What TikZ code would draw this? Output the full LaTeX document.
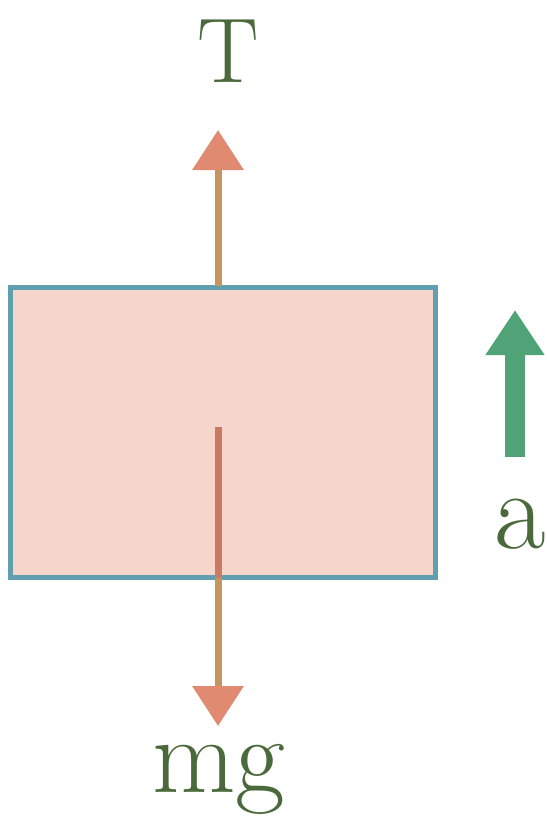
\documentclass[tikz,border=0pt]{standalone}
\usetikzlibrary{arrows.meta}
\definecolor{boxfill}{HTML}{F6D6CB}
\definecolor{boxline}{HTML}{5F9FAF}
\definecolor{shaft}{HTML}{C4955E}
\definecolor{inner}{HTML}{C97A63}
\definecolor{headc}{HTML}{E08A72}
\definecolor{accg}{HTML}{4FA376}
\definecolor{txt}{HTML}{4B6A3B}
\tikzset{
  force/.style={draw=shaft, line width=7pt},
  fhead/.style={-{Triangle[length=40pt,width=50pt,fill=headc,color=headc]}},
  lbl/.style={text=txt, inner sep=0pt, font=\fontsize{92}{92}\selectfont},
}
\begin{document}
\begin{tikzpicture}[x=1pt,y=-1pt]
\useasboundingbox (0,0) rectangle (546,816);
\node[draw=boxline, line width=5pt, fill=boxfill, minimum width=425pt, minimum height=290pt, inner sep=0pt] (blk) at (222.5,432) {};
\coordinate (ctr) at (218,427);
\coordinate (top) at (218,286);
\coordinate (bot) at (218,578);
\coordinate (tup) at (218,130);
\coordinate (tdn) at (218,726);
\draw[force, fhead] (top) -- (tup);
\draw[draw=inner, line width=7pt] (ctr) -- (bot);
\draw[force, fhead] (bot) -- (tdn);
\node[lbl, anchor=base] (T) at (228,82) {T};
\node[lbl, anchor=base, font=\fontsize{108}{108}\selectfont] (mg) at (219,792) {mg};
\coordinate (a1) at (515,457);
\coordinate (a2) at (515,310);
\draw[draw=accg, line width=20pt, -{Triangle[length=45pt,width=56pt]}] (a1) -- (a2);
\node[lbl, anchor=base, font=\fontsize{112}{112}\selectfont] (a) at (520,548) {a};
\end{tikzpicture}
\end{document}
